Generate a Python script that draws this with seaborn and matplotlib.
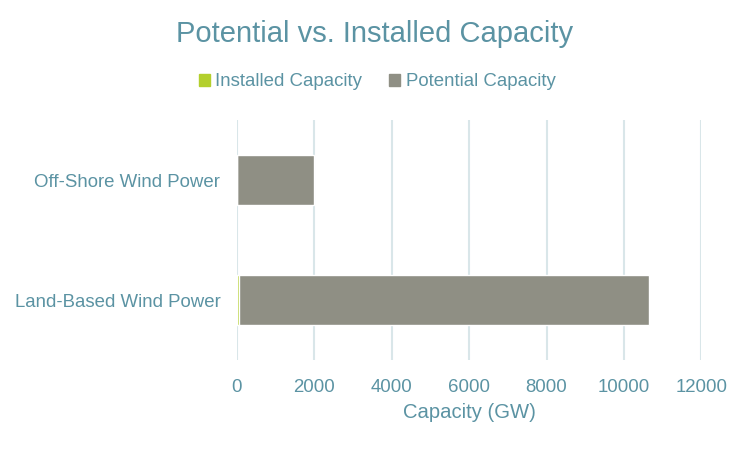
import matplotlib
matplotlib.use("Agg")
import matplotlib.pyplot as plt
import seaborn as sns
import pandas as pd
from matplotlib.patches import Patch

sources = ["Off-Shore Wind Power", "Land-Based Wind Power"]
installed = [0.03, 60]
potential = [2000, 10600]

df = pd.DataFrame({"source": sources, "installed": installed, "potential": potential})
df["total"] = df["installed"] + df["potential"]

green = "#b3cf2d"
gray = "#8f8f84"
text_col = "#5b93a3"
grid_col = "#d9e6e9"

sns.set_style("white")
plt.rcParams["font.family"] = ["Liberation Sans", "DejaVu Sans"]

fig = plt.figure(figsize=(7.5, 4.5), dpi=100)
ax = fig.add_axes([0.316, 0.2, 0.619, 0.533])

sns.barplot(data=df, x="total", y="source", order=sources, color=gray,
            width=0.42, ax=ax, saturation=1)
sns.barplot(data=df, x="installed", y="source", order=sources, color=green,
            width=0.42, ax=ax, saturation=1)

ax.set_xlim(0, 12000)
ax.set_xticks(range(0, 12001, 2000))
ax.set_ylim(1.5, -0.5)
ax.grid(axis="x", color=grid_col, linewidth=1.5)
ax.set_axisbelow(True)
for s in ax.spines.values():
    s.set_visible(False)
ax.tick_params(axis="both", length=0, colors=text_col, labelsize=13.4)
ax.tick_params(axis="x", pad=14)
ax.tick_params(axis="y", pad=12)
ax.set_ylabel("")
ax.set_xlabel("Capacity (GW)", color=text_col, fontsize=14.6, labelpad=5)

fig.text(0.5, 0.925, "Potential vs. Installed Capacity", ha="center", va="center",
         color=text_col, fontsize=21)

handles = [Patch(color=green, label="Installed Capacity"),
           Patch(color=gray, label="Potential Capacity")]
leg = fig.legend(handles=handles, loc="center", bbox_to_anchor=(0.503, 0.818), ncol=2,
                 frameon=False, fontsize=13.4, handlelength=0.6, handleheight=0.6,
                 handletextpad=0.3, columnspacing=1.45)
for t in leg.get_texts():
    t.set_color(text_col)

fig.savefig("out.png", dpi=100)
